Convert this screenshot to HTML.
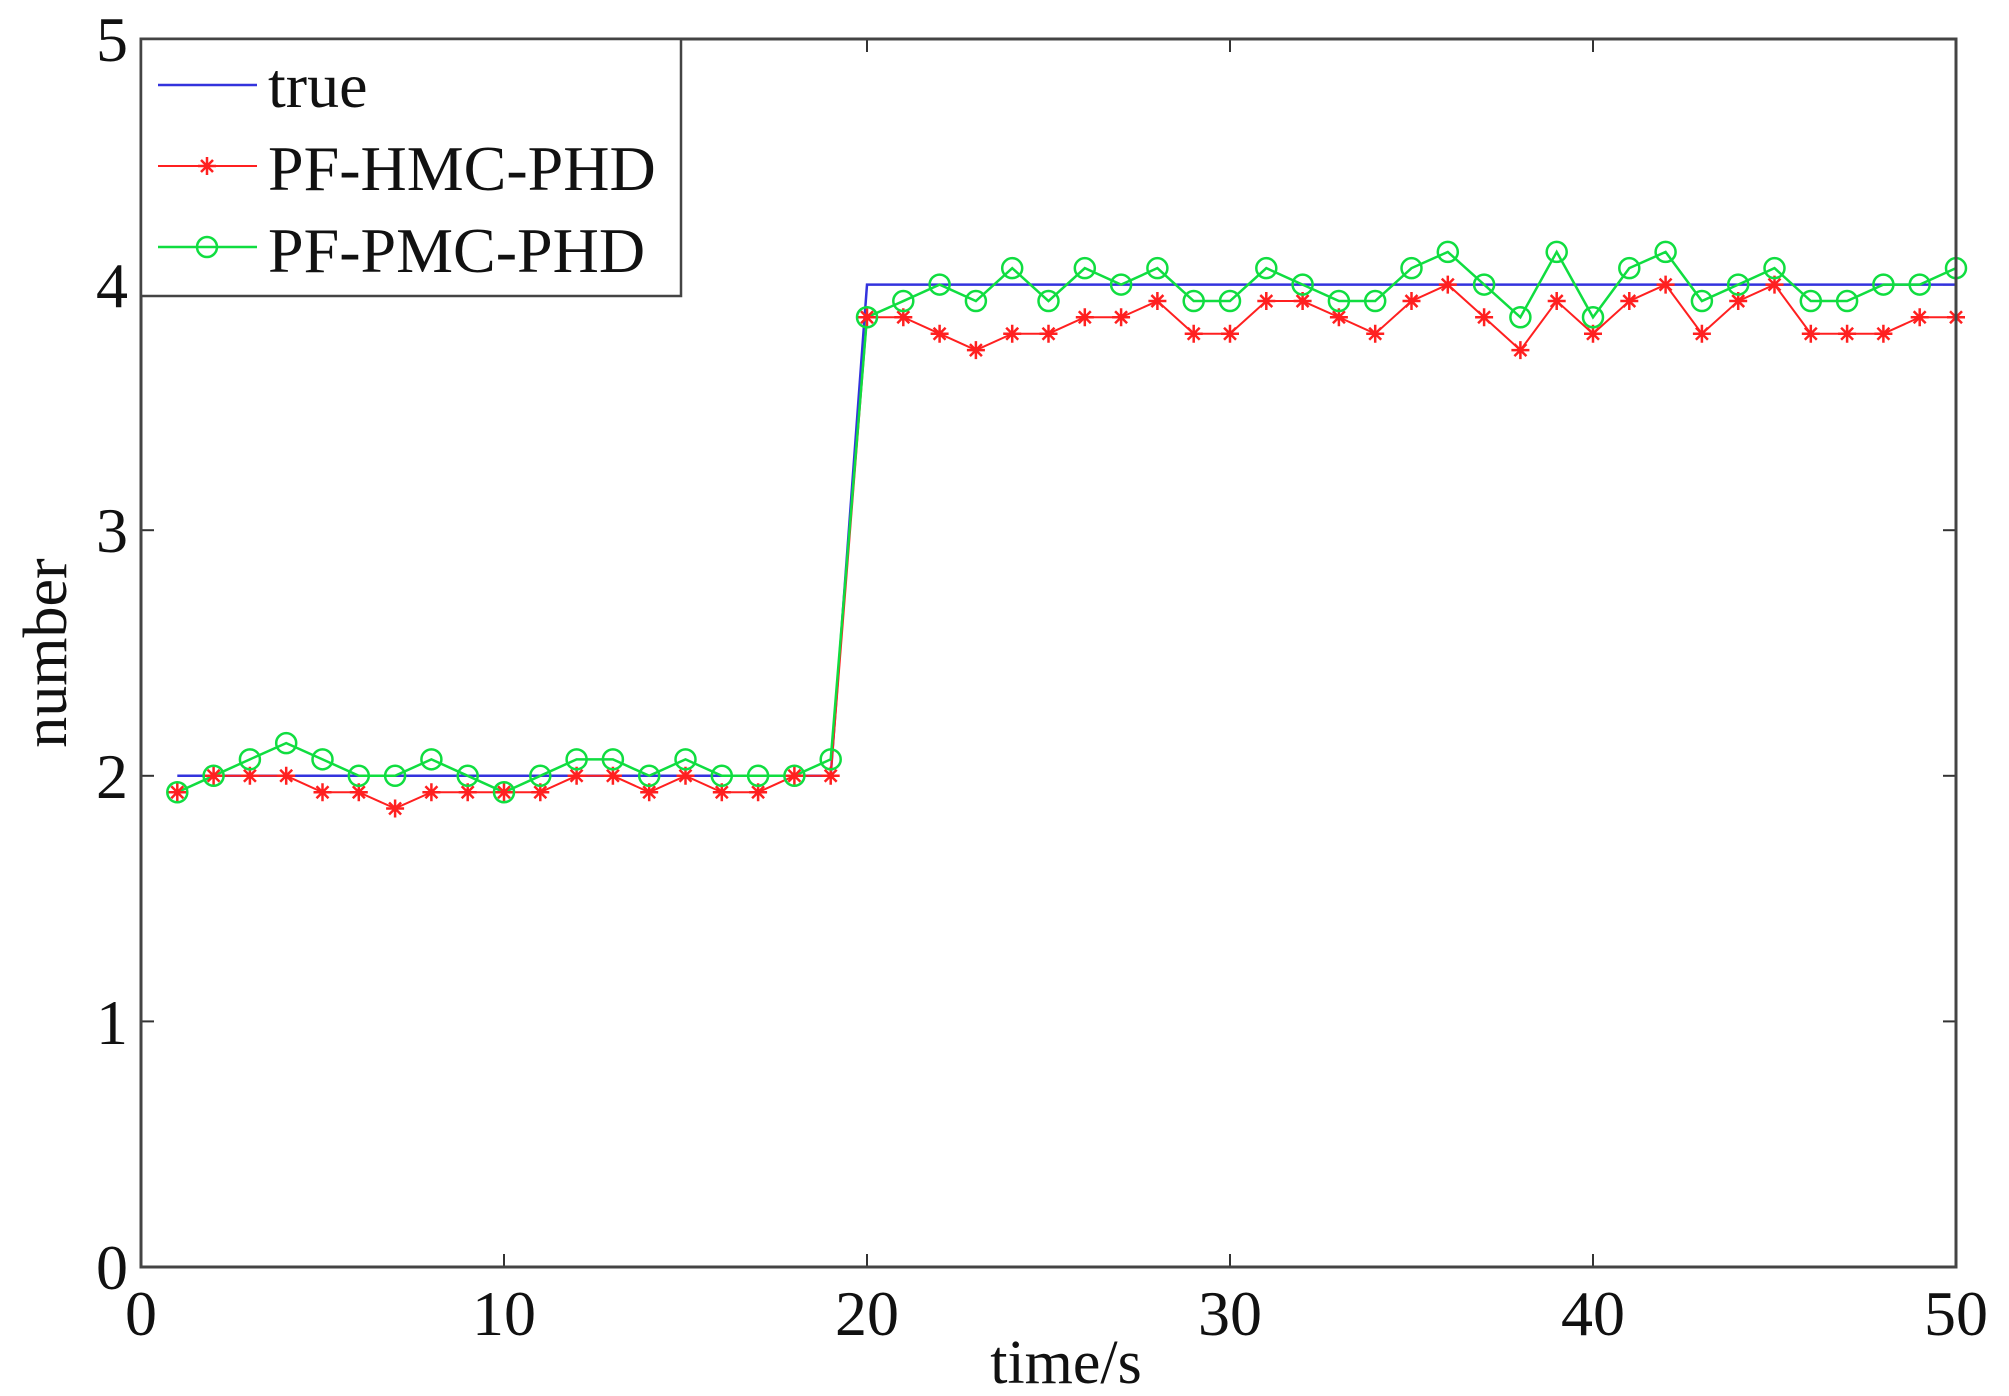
<!DOCTYPE html>
<html><head><meta charset="utf-8"><style>
html,body{margin:0;padding:0;background:#fff;}
svg{display:block;}
text{font-family:"Liberation Serif",serif;fill:#111;}
</style></head><body>
<svg id="s" width="2009" height="1396" viewBox="0 0 2009 1396" xmlns="http://www.w3.org/2000/svg">
<rect x="0" y="0" width="2009" height="1396" fill="#fff"/>
<g id="ticks" stroke="#333" stroke-width="2"></g>
<g id="series"></g>
<rect x="141" y="39" width="1815" height="1228" fill="none" stroke="#444" stroke-width="3"/>
<g font-size="64" text-anchor="middle">
<text x="141" y="1335">0</text>
<text x="504" y="1335">10</text>
<text x="867" y="1335">20</text>
<text x="1230" y="1335">30</text>
<text x="1593" y="1335">40</text>
<text x="1956" y="1335">50</text>
</g>
<g font-size="64" text-anchor="end">
<text x="128" y="1289">0</text>
<text x="128" y="1044">1</text>
<text x="128" y="798">2</text>
<text x="128" y="552">3</text>
<text x="128" y="307">4</text>
<text x="128" y="61">5</text>
</g>
<text x="1066" y="1383" font-size="62" text-anchor="middle">time/s</text>
<text transform="translate(66,653) rotate(-90)" font-size="62" text-anchor="middle">number</text>
<rect x="141" y="39" width="540" height="257" fill="#fff" stroke="#444" stroke-width="2.5"/>
<line x1="158" y1="85" x2="257" y2="85" stroke="#3333dd" stroke-width="2.5"/>
<line x1="158" y1="166" x2="257" y2="166" stroke="#ff2020" stroke-width="2"/>
<line x1="158" y1="247" x2="257" y2="247" stroke="#10dd40" stroke-width="2.5"/>
<g id="legm"></g>
<g font-size="64">
<text x="268" y="107">true</text>
<text x="268" y="190">PF-HMC-PHD</text>
<text x="268" y="272">PF-PMC-PHD</text>
</g>
</svg>
<script>
var NS="http://www.w3.org/2000/svg";
function el(p,n,a){var e=document.createElementNS(NS,n);for(var k in a)e.setAttribute(k,a[k]);p.appendChild(e);return e;}
function X(t){return 141+36.3*t;}
function Y(v){return 1267-245.6*v;}
var tk=document.getElementById('ticks');
for(var t=0;t<=50;t+=10){el(tk,'line',{x1:X(t),y1:1267,x2:X(t),y2:1254});el(tk,'line',{x1:X(t),y1:39,x2:X(t),y2:52});}
for(var v=0;v<=5;v++){el(tk,'line',{x1:141,y1:Y(v),x2:154,y2:Y(v)});el(tk,'line',{x1:1956,y1:Y(v),x2:1943,y2:Y(v)});}
var s=1/15;
var red=[1.933,2,2,2,1.933,1.933,1.867,1.933,1.933,1.933,1.933,2,2,1.933,2,1.933,1.933,2,2,3.867,3.867,3.8,3.733,3.8,3.8,3.867,3.867,3.933,3.8,3.8,3.933,3.933,3.867,3.8,3.933,4,3.867,3.733,3.933,3.8,3.933,4,3.8,3.933,4,3.8,3.8,3.8,3.867,3.867];
var grn=[1.933,2,2.067,2.133,2.067,2,2,2.067,2,1.933,2,2.067,2.067,2,2.067,2,2,2,2.067,3.867,3.933,4,3.933,4.067,3.933,4.067,4,4.067,3.933,3.933,4.067,4,3.933,3.933,4.067,4.133,4,3.867,4.133,3.867,4.067,4.133,3.933,4,4.067,3.933,3.933,4,4,4.067];
var g=document.getElementById('series');
var bp="M"+X(1)+","+Y(2)+" L"+X(19)+","+Y(2)+" L"+X(20)+","+Y(4)+" L"+X(50)+","+Y(4);
el(g,'path',{d:bp,fill:'none',stroke:'#3333dd','stroke-width':2.5});
function pts(a){return a.map(function(v,i){return X(i+1)+","+Y(v);}).join(" ");}
el(g,'polyline',{points:pts(red),fill:'none',stroke:'#ff2020','stroke-width':2});
el(g,'polyline',{points:pts(grn),fill:'none',stroke:'#10dd40','stroke-width':2.5});
function star(p,x,y){var r=9;el(p,'path',{d:"M"+x+","+(y-r)+"V"+(y+r)+"M"+(x-r)+","+y+"H"+(x+r)+"M"+(x-6)+","+(y-6)+"L"+(x+6)+","+(y+6)+"M"+(x-6)+","+(y+6)+"L"+(x+6)+","+(y-6),stroke:'#ff2020','stroke-width':2.5,fill:'none'});}
function circ(p,x,y){el(p,'circle',{cx:x,cy:y,r:10,fill:'none',stroke:'#10dd40','stroke-width':2.5});}
red.forEach(function(v,i){star(g,X(i+1),Y(v));});
grn.forEach(function(v,i){circ(g,X(i+1),Y(v));});
var lm=document.getElementById('legm');
star(lm,207,166);circ(lm,207,247);
</script>
</body></html>
